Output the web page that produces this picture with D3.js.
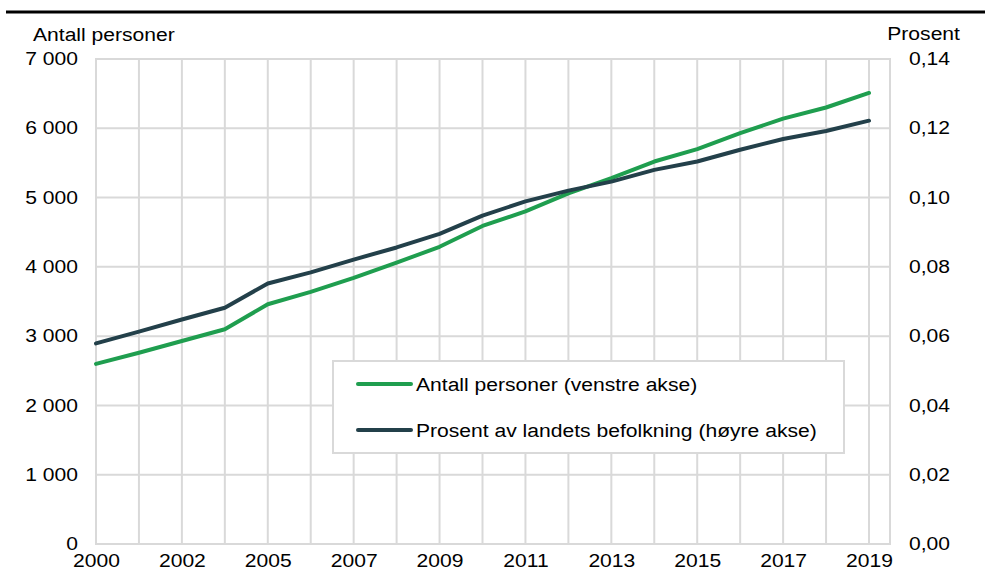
<!DOCTYPE html>
<meta charset="utf-8">
<script src="https://d3js.org/d3.v7.min.js"></script>
<style>
  body { margin: 0; background: #fff; }
  text { font-family: "Liberation Sans", Arial, sans-serif; fill: #000; font-size: 19px; }
</style>
<div id="chart"></div>
<script>

    // data
    var years = ["2000", "2001", "2002", "2003", "2005", "2006", "2007", "2008", "2009", "2010",
        "2011", "2012", "2013", "2014", "2015", "2016", "2017", "2018", "2019"];
    var yearLabels = ["2000", "2002", "2005", "2007", "2009", "2011", "2013", "2015", "2017", "2019"];
    var persons = [2600, 2760, 2930, 3100, 3460, 3640, 3840, 4060, 4290, 4590,
        4800, 5060, 5280, 5520, 5700, 5930, 6140, 6300, 6510];
    var percent = [0.0579, 0.0613, 0.0648, 0.0682, 0.0752, 0.0784, 0.0821, 0.0856, 0.0895, 0.0948,
        0.0989, 0.1020, 0.1046, 0.1080, 0.1104, 0.1138, 0.1169, 0.1192, 0.1222];
    var leftTicks = [0, 1000, 2000, 3000, 4000, 5000, 6000, 7000];
    var rightTicks = [0, 0.02, 0.04, 0.06, 0.08, 0.10, 0.12, 0.14];
    var seriesNames = ["Antall personer (venstre akse)", "Prosent av landets befolkning (høyre akse)"];

    var W = 985, H = 583;
    var plot = { left: 96, right: 890, top: 59, bottom: 544 };
    var green = "#1f9e4f", dark = "#23404a", grid = "#d9d9d9";
    var stretch = 1.11; // text in the source looks a bit wide

    // widen a text selection around its anchor side
    function widen(sel, origin) {
        sel.style("transform-box", "fill-box")
            .style("transform-origin", origin + " center")
            .style("transform", "scaleX(" + stretch + ")");
    }

    var svg = d3.select("#chart").append("svg")
        .attr("width", W)
        .attr("height", H);

    // thick rule at the top
    svg.append("line")
        .attr("x1", 6).attr("x2", W)
        .attr("y1", 12).attr("y2", 12)
        .attr("stroke", "#000")
        .attr("stroke-width", 3);

    var x = d3.scalePoint()
        .domain(years)
        .range([plot.left, 869]);

    var yL = d3.scaleLinear().domain([0, 7000]).range([plot.bottom, plot.top]);
    var yR = d3.scaleLinear().domain([0, 0.14]).range([plot.bottom, plot.top]);

    // horizontal gridlines
    svg.append("g").selectAll("line")
        .data(leftTicks)
        .join("line")
        .attr("x1", plot.left).attr("x2", plot.right)
        .attr("y1", d => yL(d)).attr("y2", d => yL(d))
        .attr("stroke", grid).attr("stroke-width", 2);

    // vertical gridlines
    svg.append("g").selectAll("line")
        .data(years)
        .join("line")
        .attr("x1", d => x(d)).attr("x2", d => x(d))
        .attr("y1", plot.top).attr("y2", plot.bottom)
        .attr("stroke", grid).attr("stroke-width", 2);

    // plot area border
    svg.append("rect")
        .attr("x", plot.left).attr("y", plot.top)
        .attr("width", plot.right - plot.left)
        .attr("height", plot.bottom - plot.top)
        .attr("fill", "none")
        .attr("stroke", grid).attr("stroke-width", 2);

    var fmtL = function (d) { return d3.format(",")(d).replace(",", " "); };
    var fmtR = function (d) { return d3.format(".2f")(d).replace(".", ","); };

    // left axis
    var axL = svg.append("g")
        .attr("transform", "translate(78,0)")
        .call(d3.axisLeft(yL).tickValues(leftTicks).tickFormat(fmtL).tickSize(0).tickPadding(0));
    axL.select(".domain").remove();

    // right axis
    var axR = svg.append("g")
        .attr("transform", "translate(909,0)")
        .call(d3.axisRight(yR).tickValues(rightTicks).tickFormat(fmtR).tickSize(0).tickPadding(0));
    axR.select(".domain").remove();

    // bottom axis
    var axB = svg.append("g")
        .attr("transform", "translate(0," + plot.bottom + ")")
        .call(d3.axisBottom(x).tickValues(yearLabels).tickSize(0).tickPadding(10));
    axB.select(".domain").remove();

    svg.selectAll(".tick text")
        .attr("font-family", null)
        .attr("font-size", null)
        .style("font-size", "19px")
        .attr("fill", "#000");
    axL.selectAll(".tick text").attr("dy", "0.3em").call(widen, "right");
    axR.selectAll(".tick text").attr("dy", "0.3em").call(widen, "left");
    axB.selectAll(".tick text").call(widen, "center");
    svg.selectAll(".axis-none").remove();

    // axis titles
    svg.append("text")
        .attr("x", 33).attr("y", 41)
        .text("Antall personer")
        .call(widen, "left");
    svg.append("text")
        .attr("x", 960).attr("y", 40)
        .attr("text-anchor", "end")
        .text("Prosent")
        .call(widen, "right");

    // lines
    var lineL = d3.line()
        .x((d, i) => x(years[i]))
        .y(d => yL(d));
    var lineR = d3.line()
        .x((d, i) => x(years[i]))
        .y(d => yR(d));

    svg.append("path")
        .datum(persons)
        .attr("fill", "none")
        .attr("stroke", green)
        .attr("stroke-width", 4)
        .attr("stroke-linejoin", "round")
        .attr("stroke-linecap", "round")
        .attr("d", lineL);

    svg.append("path")
        .datum(percent)
        .attr("fill", "none")
        .attr("stroke", dark)
        .attr("stroke-width", 4)
        .attr("stroke-linejoin", "round")
        .attr("stroke-linecap", "round")
        .attr("d", lineR);

    // legend
    var legend = svg.append("g");
    legend.append("rect")
        .attr("x", 333).attr("y", 361)
        .attr("width", 511).attr("height", 92)
        .attr("fill", "#fff")
        .attr("stroke", grid).attr("stroke-width", 2);

    var items = legend.selectAll("g.item")
        .data(seriesNames)
        .join("g")
        .attr("class", "item")
        .attr("transform", (d, i) => "translate(0," + (384 + i * 46) + ")");
    items.append("line")
        .attr("x1", 358).attr("x2", 411)
        .attr("y1", 0).attr("y2", 0)
        .attr("stroke", (d, i) => i === 0 ? green : dark)
        .attr("stroke-width", 4)
        .attr("stroke-linecap", "round");
    items.append("text")
        .attr("x", 416).attr("y", 0)
        .attr("dy", "0.35em")
        .text(d => d)
        .call(widen, "left");

</script>
